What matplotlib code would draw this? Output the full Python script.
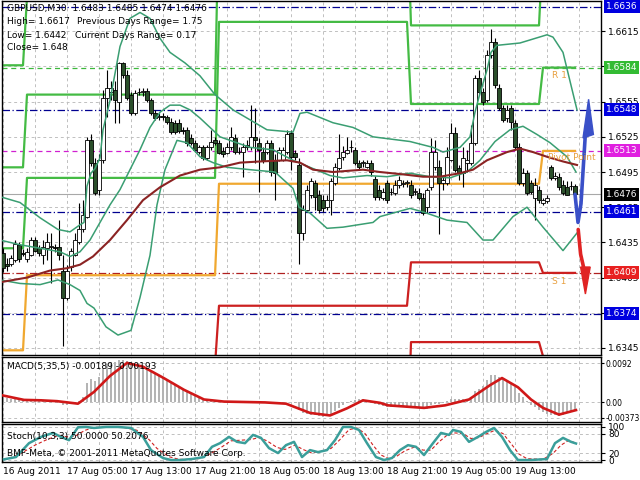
import matplotlib
matplotlib.use("Agg")
import matplotlib.pyplot as plt
import matplotlib.transforms as mtransforms
import numpy as np

# GBPUSD M30 candles, bar 0 = 16 Aug 2011 21:00
opens = [1.6426, 1.6417, 1.6417, 1.6420, 1.6433, 1.6426, 1.6421, 1.6424, 1.6437, 1.6430,
         1.6424, 1.6430, 1.6431, 1.6431, 1.6431, 1.6411, 1.6388, 1.6414, 1.6424, 1.6435,
         1.6446, 1.6457, 1.6522, 1.6503, 1.6480, 1.6505, 1.6558, 1.6563, 1.6565, 1.6555,
         1.6588, 1.6578, 1.6561, 1.6545, 1.6563, 1.6563, 1.6564, 1.6556, 1.6545, 1.6542,
         1.6543, 1.6542, 1.6538, 1.6537, 1.6537, 1.6531, 1.6531, 1.6524, 1.6520, 1.6512,
         1.6516, 1.6507, 1.6516, 1.6522, 1.6520, 1.6513, 1.6511, 1.6516, 1.6524, 1.6512,
         1.6512, 1.6516, 1.6516, 1.6525, 1.6520, 1.6512, 1.6512, 1.6520, 1.6505, 1.6505,
         1.6505, 1.6512, 1.6528, 1.6511, 1.6501, 1.6443, 1.6463, 1.6475, 1.6486, 1.6475,
         1.6471, 1.6465, 1.6471, 1.6486, 1.6498, 1.6508, 1.6511, 1.6516, 1.6514, 1.6503,
         1.6503, 1.6499, 1.6503, 1.6489, 1.6480, 1.6473, 1.6486, 1.6478, 1.6477, 1.6484,
         1.6485, 1.6486, 1.6484, 1.6478, 1.6477, 1.6473, 1.6465, 1.6482, 1.6499, 1.6499,
         1.6486, 1.6486, 1.6505, 1.6528, 1.6498, 1.6494, 1.6503, 1.6503, 1.6520, 1.6575,
         1.6563, 1.6556, 1.6595, 1.6606, 1.6567, 1.6550, 1.6541, 1.6550, 1.6537, 1.6516,
         1.6486, 1.6494, 1.6486, 1.6473, 1.6480, 1.6469, 1.6470, 1.6499, 1.6490, 1.6491,
         1.6484, 1.6482, 1.6483, 1.6483]
highs = [1.6430, 1.6422, 1.6424, 1.6437, 1.6435, 1.6429, 1.6430, 1.6440, 1.6440, 1.6433,
         1.6437, 1.6443, 1.6443, 1.6434, 1.6454, 1.6424, 1.6416, 1.6430, 1.6443, 1.6469,
         1.6471, 1.6525, 1.6527, 1.6507, 1.6510, 1.6565, 1.6582, 1.6573, 1.6573, 1.6589,
         1.6589, 1.6582, 1.6563, 1.6565, 1.6567, 1.6567, 1.6567, 1.6558, 1.6548, 1.6545,
         1.6545, 1.6544, 1.6541, 1.6539, 1.6540, 1.6533, 1.6533, 1.6527, 1.6522, 1.6518,
         1.6518, 1.6518, 1.6531, 1.6525, 1.6522, 1.6516, 1.6520, 1.6533, 1.6527, 1.6516,
         1.6520, 1.6522, 1.6552, 1.6550, 1.6524, 1.6516, 1.6522, 1.6522, 1.6510, 1.6516,
         1.6516, 1.6531, 1.6531, 1.6514, 1.6507, 1.6467, 1.6484, 1.6490, 1.6488, 1.6480,
         1.6475, 1.6475, 1.6490, 1.6503, 1.6527, 1.6517, 1.6525, 1.6522, 1.6516, 1.6505,
         1.6505, 1.6505, 1.6505, 1.6492, 1.6484, 1.6481, 1.6488, 1.6481, 1.6488, 1.6492,
         1.6488, 1.6488, 1.6488, 1.6481, 1.6481, 1.6477, 1.6481, 1.6524, 1.6522, 1.6505,
         1.6492, 1.6516, 1.6537, 1.6533, 1.6501, 1.6516, 1.6514, 1.6535, 1.6578, 1.6582,
         1.6567, 1.6599, 1.6617, 1.6609, 1.6570, 1.6552, 1.6552, 1.6552, 1.6539, 1.6520,
         1.6498, 1.6497, 1.6488, 1.6490, 1.6483, 1.6473, 1.6475, 1.6501, 1.6495, 1.6494,
         1.6488, 1.6487, 1.6487, 1.6485]
lows = [1.6410, 1.6411, 1.6415, 1.6418, 1.6418, 1.6423, 1.6418, 1.6423, 1.6427, 1.6423,
        1.6417, 1.6420, 1.6400, 1.6427, 1.6420, 1.6347, 1.6386, 1.6411, 1.6423, 1.6434,
        1.6444, 1.6456, 1.6500, 1.6475, 1.6475, 1.6503, 1.6542, 1.6556, 1.6537, 1.6537,
        1.6575, 1.6556, 1.6544, 1.6544, 1.6561, 1.6560, 1.6555, 1.6544, 1.6539, 1.6539,
        1.6539, 1.6536, 1.6527, 1.6527, 1.6528, 1.6527, 1.6517, 1.6518, 1.6512, 1.6510,
        1.6505, 1.6505, 1.6514, 1.6518, 1.6510, 1.6508, 1.6510, 1.6514, 1.6510, 1.6510,
        1.6491, 1.6514, 1.6514, 1.6503, 1.6478, 1.6503, 1.6510, 1.6492, 1.6471, 1.6504,
        1.6504, 1.6510, 1.6497, 1.6505, 1.6417, 1.6437, 1.6461, 1.6473, 1.6463, 1.6460,
        1.6461, 1.6463, 1.6458, 1.6484, 1.6497, 1.6505, 1.6510, 1.6512, 1.6501, 1.6497,
        1.6499, 1.6498, 1.6492, 1.6471, 1.6471, 1.6471, 1.6469, 1.6475, 1.6475, 1.6481,
        1.6482, 1.6482, 1.6473, 1.6475, 1.6471, 1.6458, 1.6460, 1.6480, 1.6497, 1.6442,
        1.6480, 1.6484, 1.6504, 1.6495, 1.6488, 1.6482, 1.6495, 1.6501, 1.6518, 1.6561,
        1.6552, 1.6555, 1.6592, 1.6567, 1.6548, 1.6538, 1.6538, 1.6531, 1.6514, 1.6484,
        1.6483, 1.6475, 1.6476, 1.6454, 1.6469, 1.6467, 1.6469, 1.6488, 1.6488, 1.6480,
        1.6475, 1.6475, 1.6480, 1.6474]
closes = [1.6413, 1.6415, 1.6422, 1.6434, 1.6421, 1.6425, 1.6427, 1.6437, 1.6428, 1.6426,
          1.6431, 1.6435, 1.6432, 1.6430, 1.6424, 1.6388, 1.6411, 1.6428, 1.6437, 1.6446,
          1.6458, 1.6522, 1.6503, 1.6477, 1.6505, 1.6558, 1.6567, 1.6567, 1.6556, 1.6588,
          1.6578, 1.6558, 1.6545, 1.6562, 1.6563, 1.6564, 1.6556, 1.6545, 1.6541, 1.6543,
          1.6542, 1.6538, 1.6529, 1.6529, 1.6530, 1.6530, 1.6520, 1.6520, 1.6514, 1.6516,
          1.6507, 1.6516, 1.6521, 1.6520, 1.6511, 1.6510, 1.6516, 1.6525, 1.6512, 1.6512,
          1.6516, 1.6518, 1.6525, 1.6522, 1.6514, 1.6505, 1.6520, 1.6495, 1.6494, 1.6514,
          1.6514, 1.6527, 1.6508, 1.6508, 1.6443, 1.6463, 1.6480, 1.6487, 1.6474, 1.6463,
          1.6464, 1.6471, 1.6487, 1.6499, 1.6507, 1.6512, 1.6514, 1.6516, 1.6503, 1.6499,
          1.6503, 1.6503, 1.6495, 1.6474, 1.6474, 1.6478, 1.6471, 1.6478, 1.6484, 1.6488,
          1.6485, 1.6486, 1.6475, 1.6479, 1.6473, 1.6460, 1.6480, 1.6512, 1.6512, 1.6486,
          1.6488, 1.6508, 1.6528, 1.6497, 1.6494, 1.6507, 1.6505, 1.6520, 1.6575, 1.6563,
          1.6555, 1.6595, 1.6606, 1.6569, 1.6550, 1.6539, 1.6548, 1.6538, 1.6516, 1.6486,
          1.6494, 1.6477, 1.6478, 1.6484, 1.6471, 1.6471, 1.6473, 1.6490, 1.6492, 1.6482,
          1.6477, 1.6475, 1.6483, 1.6476]

# Bollinger bands (upper / middle / lower) read at sample bars
ub_x = [-0.75, 4.25, 9.25, 13.75, 16.75, 19.25, 20.25, 21, 22, 23, 24.25, 25, 26.75, 29.25,
        31.75, 34.25, 36.75, 39.25, 41.75, 45.5, 49.25, 53, 57.5, 66, 72.5, 74.25, 76, 82.5,
        87.5, 92.5, 101.75, 107.5, 110, 114.25, 116.75, 118, 119, 121, 122, 123.5, 129.25,
        136, 137.5, 140, 142.5, 143.5]
ub_y = [1.6474, 1.6469, 1.6456, 1.6446, 1.6444, 1.6450, 1.6452, 1.6483, 1.6494, 1.6498,
        1.6507, 1.6531, 1.6556, 1.6602, 1.6626, 1.6631, 1.6626, 1.6609, 1.6597, 1.6588,
        1.6577, 1.6561, 1.6548, 1.6531, 1.6529, 1.6545, 1.6546, 1.6537, 1.6533, 1.6525,
        1.6521, 1.6516, 1.6512, 1.6516, 1.6525, 1.6546, 1.6559, 1.6582, 1.6597, 1.6603,
        1.6605, 1.6612, 1.6610, 1.6597, 1.6562, 1.6548]
mb_x = [-0.75, 4.25, 9.25, 14.25, 16.75, 19.25, 21.75, 24.25, 26.75, 29.25, 31.75, 34.25,
        36.75, 39.25, 41.75, 44.25, 46.75, 49.25, 54.25, 61.75, 67.5, 72.5, 76.75, 81.75,
        85, 91, 96, 101.75, 106.75, 111.75, 116, 119.25, 123, 126.75, 130, 133.5, 136.75,
        141, 143.25]
mb_y = [1.6437, 1.6433, 1.6430, 1.6427, 1.6423, 1.6427, 1.6437, 1.6452, 1.6467, 1.6480,
        1.6497, 1.6514, 1.6533, 1.6546, 1.6552, 1.6552, 1.6548, 1.6541, 1.6525, 1.6516,
        1.6514, 1.6505, 1.6499, 1.6492, 1.6490, 1.6492, 1.6491, 1.6494, 1.6491, 1.6490,
        1.6495, 1.6505, 1.6521, 1.6531, 1.6534, 1.6527, 1.6520, 1.6508, 1.6495]
lb_x = [-0.75, 4.25, 9.25, 13.75, 16.75, 19.25, 21, 22.75, 25.75, 28.75, 32, 34.25, 36.75,
        38.5, 40.5, 43.5, 46, 49.25, 52.5, 56, 61.75, 68, 72.5, 74, 76.75, 81, 85, 92.5,
        94.25, 101.75, 105, 111, 116, 120, 122.5, 127.5, 131, 135, 140, 143.5]
lb_y = [1.6403, 1.6400, 1.6399, 1.6403, 1.6399, 1.6394, 1.6383, 1.6379, 1.6363, 1.6356,
        1.6360, 1.6388, 1.6424, 1.6467, 1.6497, 1.6522, 1.6520, 1.6508, 1.6503, 1.6499,
        1.6497, 1.6495, 1.6481, 1.6465, 1.6460, 1.6447, 1.6448, 1.6452, 1.6457, 1.6464,
        1.6461, 1.6454, 1.6452, 1.6437, 1.6437, 1.6457, 1.6465, 1.6448, 1.6428, 1.6443]
# slow moving average (brown)
ma_x = [-0.75, 6, 11.75, 16, 19.25, 22.5, 26.75, 31, 35, 39.25, 44.25, 49.25, 54.25, 59.25,
        64.25, 71, 74.25, 77.5, 82.5, 90, 94.25, 100, 105, 109.25, 114.25, 117.5, 121, 126,
        129.25, 132.5, 136, 140, 143.5]
ma_y = [1.6401, 1.6405, 1.6411, 1.6413, 1.6416, 1.6423, 1.6437, 1.6454, 1.6471, 1.6482,
        1.6492, 1.6497, 1.6499, 1.6503, 1.6504, 1.6505, 1.6503, 1.6497, 1.6495, 1.6497,
        1.6495, 1.6493, 1.6491, 1.6491, 1.6494, 1.6497, 1.6505, 1.6512, 1.6515, 1.6512,
        1.6508, 1.6504, 1.6501]

# daily pivot levels (first / last bar of each day)
day_first = [-0.25, 6, 54, 102, 135]
day_last = [5, 53, 101, 134, 143]
piv_r3 = [1.6586, 1.6644, 1.6865, 1.6688, 1.6759]
piv_r2 = [1.6499, 1.6561, 1.6727, 1.6620, 1.6688]
piv_r1 = [1.6430, 1.6490, 1.6623, 1.6553, 1.6584]
piv_p = [1.6343, 1.6407, 1.6485, 1.6485, 1.6513]
piv_s1 = [1.6274, 1.6330, 1.6381, 1.6418, 1.6409]
piv_s2 = [1.6187, 1.6253, 1.6243, 1.6350, 1.6338]

# horizontal level lines with price tags
lvl_vals = [1.6636, 1.6584, 1.6548, 1.6513, 1.6461, 1.6409, 1.6374]
lvl_line_colors = ['#000090', '#3cb83c', '#000090', '#d020d0', '#000090', '#b02020', '#000090']
lvl_dashed = [False, True, False, True, False, False, False]
tag_vals = [1.6636, 1.6584, 1.6548, 1.6513, 1.6476, 1.6461, 1.6409, 1.6374]
tag_colors = ['#0000e0', '#33bb33', '#0000e0', '#e020e0', '#000000', '#0000e0', '#e82020', '#0000e0']
bid = 1.6476
price_ticks = [1.6345, 1.6375, 1.6405, 1.6435, 1.6465, 1.6495, 1.6525, 1.6555, 1.6585, 1.6615]
price_tick_labels = ['1.6345', '', '1.6405', '1.6435', '1.6465', '1.6495', '1.6525', '1.6555',
                     '', '1.6615']

# forecast arrows
blue_x = [143, 143.75, 144.5, 145.6]
blue_y = [1.6476, 1.6452, 1.6468, 1.6528]
blue_head_x = [145.0, 146.4, 147.6]
blue_head_y = [1.6524, 1.6557, 1.6527]
red_x = [143.8, 144.4, 145.4]
red_y = [1.6446, 1.6425, 1.6410]
red_head_x = [144.4, 145.6, 146.8]
red_head_y = [1.6414, 1.6391, 1.6414]

# MACD(5,35,5): histogram per bar (x1e-4) and signal line samples
macd_hist = [12, 10, 8, 8, 6, 5, 4, 5, 4, 3,
             3, 3, 2, 2, 0, -8, -6, -5, -3, 2,
             12, 45, 55, 50, 60, 80, 90, 95, 96, 100,
             100, 97, 92, 90, 86, 83, 80, 74, 68, 62,
             56, 50, 45, 40, 35, 30, 25, 21, 16, 12,
             9, 7, 6, 5, 3, 2, 1, 1, 0, -1,
             -1, 0, 1, 1, 0, -1, -1, -3, -5, -4,
             -3, 0, -1, -2, -18, -26, -28, -30, -32, -34,
             -35, -33, -28, -22, -15, -8, -2, 3, 5, 6,
             6, 5, 3, -4, -8, -10, -12, -13, -13, -12,
             -12, -12, -13, -14, -15, -17, -16, -8, -4, -4,
             -2, 2, 6, 6, 6, 7, 8, 12, 25, 32,
             38, 52, 64, 64, 60, 55, 50, 45, 36, 22,
             12, 2, -6, -12, -18, -24, -28, -30, -32, -33,
             -30, -26, -22, -19]
macd_sig_x = [-0.75, 5.25, 9.5, 13.5, 18.75, 22.75, 26.75, 31, 35, 40, 45.25, 50.25, 55.25,
              65.5, 70.75, 76.75, 81.75, 86, 90, 94.25, 96.25, 105.25, 110.5, 116.5, 121.75,
              124.75, 128.75, 132, 135, 139, 143.25]
macd_sig = [17, 5, 4, 2, -4, 24, 62, 93, 84, 58, 29, 6, 1, -1, -4, -26, -32, -15, 4, -2,
            -8, -14, -8, 6, 40, 57, 35, 6, -14, -30, -19.3]

# Stochastic(10,3,3) main and signal samples
st_x = [0.25, 3.25, 6.5, 9.5, 12.5, 14.5, 16.5, 18.75, 20.75, 22.75, 25.75, 28.75, 32, 35,
        37, 40, 42, 44.25, 47.25, 50.25, 52.25, 54.25, 56.5, 58.5, 60.5, 62.5, 64.5, 66.5,
        68.75, 70.75, 72.75, 74.75, 76.75, 78.75, 81, 83, 85, 87, 89, 91, 93.25, 95.25,
        97.25, 99.25, 101.25, 103.25, 105.25, 107.5, 109.5, 111.5, 112.5, 114.5, 116.5,
        118.75, 120.75, 122.75, 124.75, 126.75, 128.75, 132, 136, 138, 140, 142, 143.25]
st_main = [2, 9, 51, 70, 82, 70, 60, 99, 100, 97, 100, 100, 97, 70, 30, 6, 0, 0, 3, 9, 40,
           51, 70, 55, 51, 76, 67, 36, 21, 45, 55, 9, 30, 24, 30, 60, 100, 100, 91, 51, 9,
           0, 6, 30, 45, 40, 15, 51, 82, 76, 91, 85, 55, 70, 85, 97, 70, 30, 0, 0, 3, 51,
           67, 55, 50]
ss_x = [1.5, 4.5, 8, 11, 14, 16, 18, 20.5, 23, 27, 30, 33.5, 36.5, 38.5, 41.5, 44, 47,
        49.5, 52, 54.5, 57, 59.5, 62, 64, 66, 68.5, 70.5, 73, 75, 77, 79.5, 82, 84.5, 86.5,
        88.5, 90.5, 92.5, 94.5, 96.5, 98.5, 100.5, 103, 105, 107, 109, 111, 113, 115, 117,
        119, 121, 123, 125, 127, 129, 131, 135, 137.5, 139.5, 141.5, 143.25]
st_sig = [5, 20, 45, 62, 75, 70, 72, 90, 99, 99, 99, 90, 62, 35, 10, 2, 2, 5, 20, 38, 58,
          60, 62, 68, 58, 38, 32, 45, 32, 22, 26, 35, 65, 92, 97, 80, 45, 15, 4, 12, 28,
          40, 30, 30, 55, 75, 82, 80, 65, 68, 80, 90, 80, 50, 18, 4, 2, 20, 45, 60, 50.2]

time_bars = [0, 16, 32, 48, 64, 80, 96, 112, 128]
time_labels = ['16 Aug 2011', '17 Aug 05:00', '17 Aug 13:00', '17 Aug 21:00', '18 Aug 05:00',
               '18 Aug 13:00', '18 Aug 21:00', '19 Aug 05:00', '19 Aug 13:00']

plt.rcParams['font.family'] = ['DejaVu Sans']
FS = 6.5
W, H = 640.0, 480.0


def px_box(x0, y0, x1, y1):
    return [x0 / W, 1 - y1 / H, (x1 - x0) / W, (y1 - y0) / H]


fig = plt.figure(figsize=(6.4, 4.8), dpi=100)
ax = fig.add_axes(px_box(2, 1, 601, 355))
axm = fig.add_axes(px_box(2, 357, 601, 422))
axs = fig.add_axes(px_box(2, 424, 601, 462))

for a in (ax, axm, axs):
    a.set_xlim(-0.25, 149.5)
    a.set_xticks(np.arange(0, 150, 8))
    a.tick_params(axis='x', length=0, labelbottom=False)
    a.yaxis.tick_right()
    a.tick_params(axis='y', length=3, width=0.8, pad=2, labelsize=FS)
    a.grid(True, color='#c0c0c0', linestyle=(0, (3, 3)), linewidth=0.7)
    a.set_axisbelow(True)
    for s in a.spines.values():
        s.set_linewidth(1.0)

# ---------------- main price panel ----------------
ax.set_ylim(1.63390, 1.66408)
ax.set_yticks(price_ticks)
ax.set_yticklabels(price_tick_labels)

for v, col, dashed in zip(lvl_vals, lvl_line_colors, lvl_dashed):
    ls = (0, (4, 3)) if dashed else (0, (6, 2, 1, 2))
    ax.axhline(v, color=col, linestyle=ls, linewidth=0.9, zorder=1.5)
ax.axhline(bid, color='#a8a8a8', linewidth=0.8, zorder=1.5)


def steps(levels):
    xs, ys = [], []
    for a0, a1, lv in zip(day_first, day_last, levels):
        xs += [a0, a1]
        ys += [lv, lv]
    return xs, ys


for levels, col in ((piv_r3, '#44bb44'), (piv_r2, '#44bb44'), (piv_r1, '#44bb44'),
                    (piv_p, '#f0a830'), (piv_s1, '#cc2020'), (piv_s2, '#cc2020')):
    xs, ys = steps(levels)
    ax.plot(xs, ys, color=col, linewidth=1.6, zorder=2)

bx = np.arange(len(closes))
o = np.array(opens)
c = np.array(closes)
up = c >= o
ax.vlines(bx, lows, highs, color='black', linewidth=0.8, zorder=3)
ax.bar(bx, np.maximum(np.abs(c - o), 0.00003), bottom=np.minimum(o, c), width=0.78,
       color=np.where(up, 'white', '#2b4f2b'), edgecolor='black', linewidth=0.6, zorder=4)

band_col = '#3a9e72'
ax.plot(ub_x, ub_y, color=band_col, linewidth=1.1, zorder=5)
ax.plot(mb_x, mb_y, color=band_col, linewidth=1.1, zorder=5)
ax.plot(lb_x, lb_y, color=band_col, linewidth=1.1, zorder=5)
ax.plot(ma_x, ma_y, color='#8b2323', linewidth=1.5, zorder=5)

ax.plot(blue_x, blue_y, color='#3a50c8', linewidth=2.6, zorder=6, solid_capstyle='round')
ax.fill(blue_head_x, blue_head_y, color='#3a50c8', zorder=6, clip_on=False)
ax.plot(red_x, red_y, color='#e02424', linewidth=2.6, zorder=6, solid_capstyle='round')
ax.fill(red_head_x, red_head_y, color='#e02424', zorder=6, clip_on=False)

ax.text(137.2, 1.6577, 'R 1', color='#e8a040', fontsize=FS, va='center', zorder=7)
ax.text(137.2, 1.6402, 'S 1', color='#e8a040', fontsize=FS, va='center', zorder=7)
ax.text(136.3, 1.6507, 'Pivot Point', color='#e8a040', fontsize=FS, va='center', zorder=7,
        clip_on=True)

tr = mtransforms.blended_transform_factory(ax.transAxes, ax.transData)
for v, col in zip(tag_vals, tag_colors):
    ax.text(1.0 + 5 / 599.0, v, '%.4f' % v, transform=tr, color='white', fontsize=FS,
            va='center', ha='left', zorder=10, clip_on=False,
            bbox=dict(boxstyle='square,pad=0.22', fc=col, ec='none'))


def ftext(x, y, s, **kw):
    fig.text(x / W, 1 - y / H, s, fontsize=FS, va='center', ha='left', **kw)


ftext(7, 9, 'GBPUSD,M30  1.6483 1.6485 1.6474 1.6476')
ftext(7, 22, 'High= 1.6617')
ftext(77, 22, 'Previous Days Range= 1.75')
ftext(7, 35, 'Low= 1.6442')
ftext(75, 35, 'Current Days Range= 0.17')
ftext(7, 47, 'Close= 1.648')

# ---------------- MACD panel ----------------
axm.set_ylim(-0.00476, 0.01071)
axm.set_yticks([-0.00373, 0.0, 0.0092])
axm.set_yticklabels(['-0.00373', '0.00', '0.0092'])
axm.tick_params(axis='y', labelsize=5.5, pad=1, length=2)
axm.bar(bx, np.array(macd_hist) * 1e-4, width=0.45, color='#b4b4b4', zorder=2)
axm.plot(macd_sig_x, np.array(macd_sig) * 1e-4, color='#d01818', linewidth=1.9, zorder=3)
ftext(7, 367, 'MACD(5,35,5) -0.00189 -0.00193')

# ---------------- Stochastic panel ----------------
axs.set_ylim(-6, 109)
axs.set_yticks([0, 20, 80, 100])
axs.set_yticklabels(['0', '20', '80', '100'])
axs.plot(ss_x, st_sig, color='#d02020', linewidth=0.8, linestyle=(0, (3, 2)), zorder=2)
axs.plot(st_x, st_main, color='#3a9e9a', linewidth=1.8, zorder=3)
ftext(7, 437, 'Stoch(10,3,3) 50.0000 50.2076')
ftext(7, 453, 'BMF-Meta, \u00a9 2001-2011 MetaQuotes Software Corp.')

trs = mtransforms.blended_transform_factory(axs.transData, axs.transAxes)
for b, s in zip(time_bars, time_labels):
    axs.text(b + 0.1, -0.24, s, transform=trs, fontsize=FS, va='center', ha='left',
             clip_on=False)

fig.savefig('out.png', dpi=100, facecolor='white')
